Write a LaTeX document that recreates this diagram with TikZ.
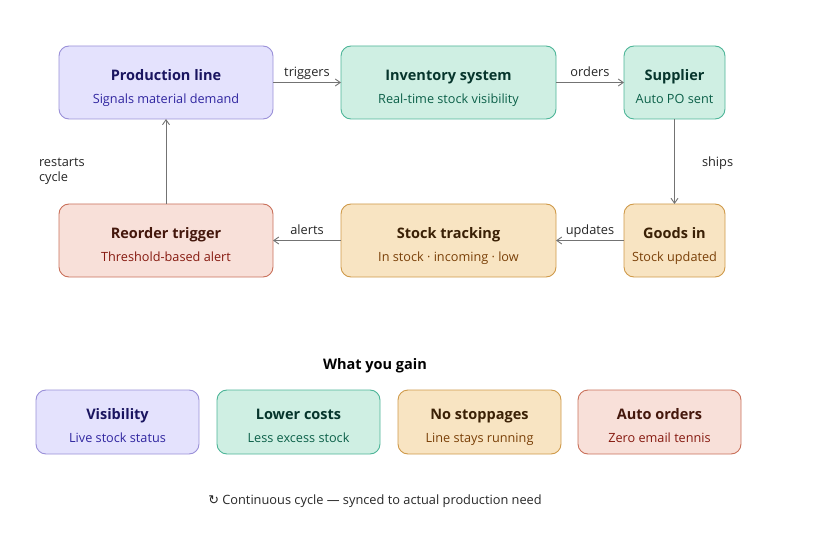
\documentclass[tikz,border=0pt]{standalone}
\usepackage{fontspec}
\setmainfont{Open Sans}
\newfontfamily\symfont{DejaVu Sans}
\usetikzlibrary{positioning,arrows.meta}
\definecolor{purplefill}{HTML}{E4E2FD}
\definecolor{purpleline}{HTML}{9A90D8}
\definecolor{purplehead}{HTML}{1A1560}
\definecolor{purplesub}{HTML}{3026A0}
\definecolor{tealfill}{HTML}{CFEFE3}
\definecolor{tealline}{HTML}{4DB598}
\definecolor{tealhead}{HTML}{06352C}
\definecolor{tealsub}{HTML}{0C6049}
\definecolor{amberfill}{HTML}{F8E4C2}
\definecolor{amberline}{HTML}{CF9A4A}
\definecolor{amberhead}{HTML}{3A2005}
\definecolor{ambersub}{HTML}{7A4008}
\definecolor{coralfill}{HTML}{F8E0D9}
\definecolor{coralline}{HTML}{C9705A}
\definecolor{coralhead}{HTML}{44170C}
\definecolor{coralsub}{HTML}{861A10}
\begin{document}
\begin{tikzpicture}[
		x=1pt, y=-1pt,
		node distance=68pt,
		box/.style={rectangle, rounded corners=10pt, line width=0.9pt, align=center, minimum height=73pt, inner sep=0pt, outer sep=0pt},
		gainbox/.style={box, minimum width=163pt, minimum height=64pt},
		purplebox/.style={draw=purpleline, fill=purplefill},
		tealbox/.style={draw=tealline, fill=tealfill},
		amberbox/.style={draw=amberline, fill=amberfill},
		coralbox/.style={draw=coralline, fill=coralfill},
		flow/.style={->, >={Straight Barb[length=5pt,width=7pt]}, draw=black!55, line width=0.9pt},
		flowtext/.style={font=\fontsize{12.8}{15}\selectfont, text=black!85, inner sep=0pt, outer sep=0pt},
		edgetext/.style={flowtext, text height=9pt, text depth=3pt, above=2.5pt}
		]
		\newcommand{\boxtext}[4]{{\fontsize{14.5}{18}\selectfont\bfseries\color{#1}\rule{0pt}{21.5pt}\smash{#2}}\\{\fontsize{12.7}{15}\selectfont\color{#3}\rule[-3pt]{0pt}{25pt}\smash{#4}}}
		\useasboundingbox (0,0) rectangle (822,540);
		% cycle
		\node (prod) [box, purplebox, minimum width=214pt] at (166,82.5) {\boxtext{purplehead}{Production line}{purplesub}{Signals material demand}};
		\node (inv) [box, tealbox, minimum width=215pt, right=of prod] {\boxtext{tealhead}{Inventory system}{tealsub}{Real-time stock visibility}};
		\node (supp) [box, tealbox, minimum width=101pt, right=of inv] {\boxtext{tealhead}{Supplier}{tealsub}{Auto PO sent}};
		\node (goods) [box, amberbox, minimum width=101pt, below=85pt of supp] {\boxtext{amberhead}{Goods in}{ambersub}{Stock updated}};
		\node (track) [box, amberbox, minimum width=215pt, below=85pt of inv] {\boxtext{amberhead}{Stock tracking}{ambersub}{In stock · incoming · low}};
		\node (reorder) [box, coralbox, minimum width=214pt, below=85pt of prod] {\boxtext{coralhead}{Reorder trigger}{coralsub}{Threshold-based alert}};

		\draw[flow] (prod) -- node[edgetext] {triggers} (inv);
		\draw[flow] (inv) -- node[edgetext] {orders} (supp);
		\draw[flow] (supp) -- (goods);
		\draw[flow] (goods) -- node[edgetext] {updates} (track);
		\draw[flow] (track) -- node[edgetext] {alerts} (reorder);
		\draw[flow] (reorder) -- (prod);
		\node (ships) [flowtext, anchor=west] at (702,163) {ships};
		\node (restarts) [flowtext, anchor=west, align=left] at (39,171.5) {restarts\\cycle};

		% gains
		\node (gain) [font=\fontsize{14.5}{18}\selectfont\bfseries, inner sep=0pt] at (375,366) {What you gain};
		\node (vis) [gainbox, purplebox] at (117.5,422) {\boxtext{purplehead}{Visibility}{purplesub}{Live stock status}};
		\node (cost) [gainbox, tealbox, right=18pt of vis] {\boxtext{tealhead}{Lower costs}{tealsub}{Less excess stock}};
		\node (stop) [gainbox, amberbox, right=18pt of cost] {\boxtext{amberhead}{No stoppages}{ambersub}{Line stays running}};
		\node (auto) [gainbox, coralbox, right=17pt of stop] {\boxtext{coralhead}{Auto orders}{coralsub}{Zero email tennis}};

		\node (note) [flowtext] at (375,501) {{\symfont ↻} Continuous cycle — synced to actual production need};
	\end{tikzpicture}
\end{document}
